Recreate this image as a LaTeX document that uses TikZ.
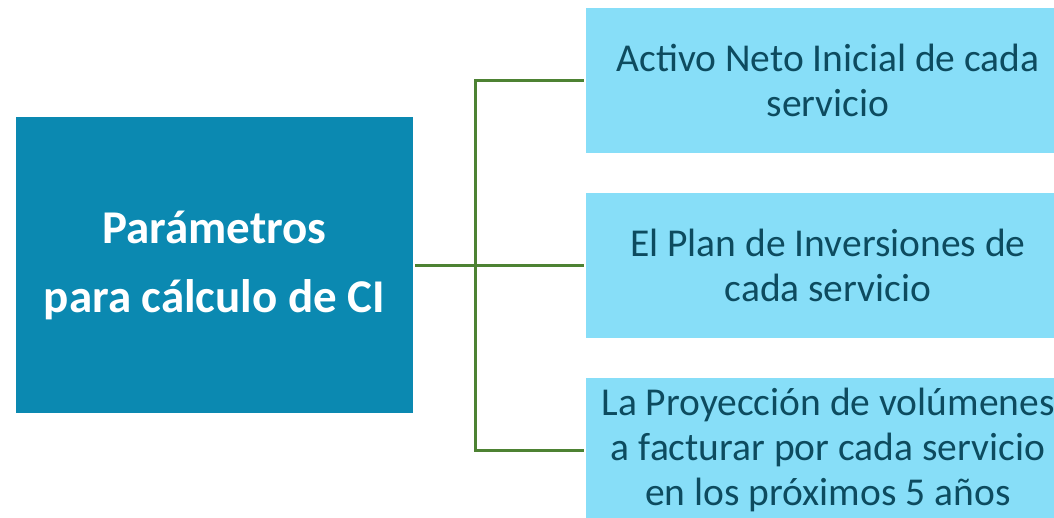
\documentclass[tikz,border=0pt]{standalone}
\usepackage{fontspec}
\setmainfont{Carlito}
\definecolor{darkbox}{HTML}{0B89B1}
\definecolor{lightbox}{HTML}{87DEF8}
\definecolor{boxtext}{HTML}{0D4B5F}
\definecolor{linkgreen}{HTML}{4D8233}
\begin{document}
\begin{tikzpicture}[x=1pt,y=-1pt,
  mainbox/.style={fill=darkbox, draw=none, minimum width=397pt, minimum height=296pt, inner sep=0pt,
    text=white, align=center, font=\fontsize{47}{69}\selectfont\bfseries},
  itembox/.style={fill=lightbox, draw=none, minimum width=484pt, minimum height=145pt, inner sep=0pt,
    text=boxtext, align=center, font=\fontsize{39.5}{45}\selectfont},
  link/.style={draw=linkgreen, line width=3pt}]
\useasboundingbox (0,0) rectangle (1054,517);
\clip (0,0) rectangle (1054,517);
\fill[white] (0,0) rectangle (1054,517);
\node[mainbox] (p) at (214.5,265) {Parámetros\\para cálculo de CI};
\node[itembox] (b1) at (828,80) {Activo Neto Inicial de cada\\servicio};
\node[itembox] (b2) at (828,265.5) {El Plan de Inversiones de\\cada servicio};
\node[itembox] (b3) at (828,450) {La Proyección de volúmenes\\a facturar por cada servicio\\en los próximos 5 años};
\coordinate (j) at (475,265.5);
\draw[link, shorten <=2pt, shorten >=2pt] (p.east |- j) -- (b2.west);
\draw[link, shorten <=2pt, shorten >=2pt] (b1.west) -| (j) |- (b3.west);
\end{tikzpicture}
\end{document}
